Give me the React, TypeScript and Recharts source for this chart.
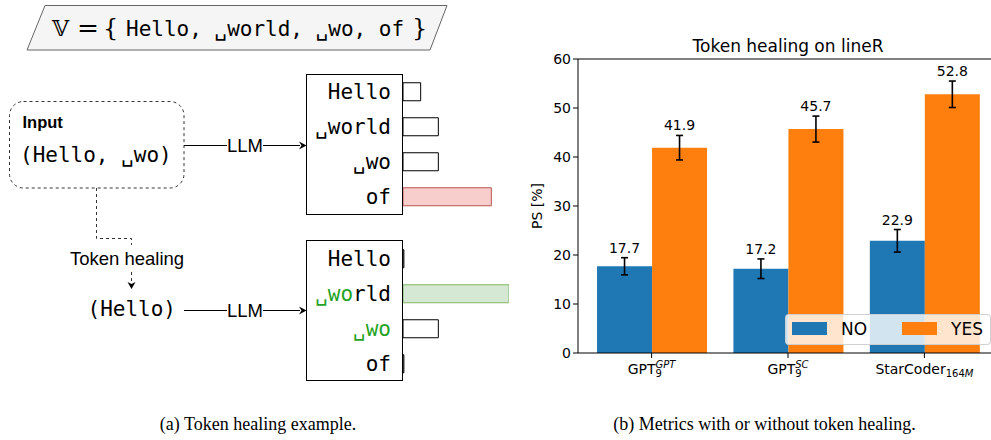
import { BarChart, Bar, XAxis, YAxis, ErrorBar, LabelList, ReferenceLine, Cell } from "recharts";

// right panel: token healing on lineR
const categories = ["GPT9GPT", "GPT9SC", "StarCoder164M"];
const tickBase = ["GPT", "GPT", "StarCoder"];
const tickSub = ["9", "9", "164"];
const tickSubItalic = ["", "", "M"];
const tickSup = ["GPT", "SC", ""];
const noValues = [17.7, 17.2, 22.9];
const yesValues = [41.9, 45.7, 52.8];
const noErrors = [1.75, 2.0, 2.3];
const yesErrors = [2.5, 2.65, 2.7];
const yTicks = [0, 10, 20, 30, 40, 50, 60];
const seriesNames = ["NO", "YES"];

// left panel: token probabilities before / after healing
const tokens = ["Hello", "␣world", "␣wo", "of"];
const probBefore = [0.1, 0.2, 0.2, 0.5];
const probAfter = [0.005, 0.6, 0.2, 0.005];
const vocabText = "Hello, ␣world, ␣wo, of";

const BLUE = "#1f77b4";
const ORANGE = "#ff7f0e";
const GREEN_TXT = "#22a322";
const MONO = "DejaVu Sans Mono";
const SANS = "Liberation Sans";

const chartData = categories.map((c, i) => ({
  key: c,
  no: noValues[i],
  yes: yesValues[i],
  noErr: noErrors[i],
  yesErr: yesErrors[i],
}));

const beforeData = tokens.map((t, i) => ({ token: t, p: probBefore[i] }));
const afterData = tokens.map((t, i) => ({ token: t, p: probAfter[i] }));

const valueLabel = (vals: number[], errs: number[]) => (props: any) => {
  const vb = props.viewBox || {};
  const x = props.x ?? vb.x;
  const y = props.y ?? vb.y;
  const w = props.width ?? vb.width;
  const h = props.height ?? vb.height;
  const v = Number(props.value);
  let i = props.index;
  if (i == null || vals[i] !== v) i = vals.indexOf(v);
  const errPx = v ? (errs[i] * h) / v : 0;
  return (
    <text x={x + w / 2} y={y - errPx - 5} textAnchor="middle" fontSize={14} fill="#000">
      {v.toFixed(1)}
    </text>
  );
};

const ModelTick = (props: any) => {
  const { x, y, payload } = props;
  const i = categories.indexOf(payload.value);
  return (
    <text x={x} y={y + 14} textAnchor="middle" fontSize={14} fill="#000">
      <tspan>{tickBase[i]}</tspan>
      <tspan dy={3} fontSize={10}>{tickSub[i]}</tspan>
      {tickSubItalic[i] && (
        <tspan fontSize={10} fontStyle="italic">{tickSubItalic[i]}</tspan>
      )}
      {tickSup[i] && (
        <tspan dx={-6.4} dy={-9.5} fontSize={10} fontStyle="italic">
          {tickSup[i]}
        </tspan>
      )}
    </text>
  );
};

const tokenTick = (greenPrefix: number[]) => (props: any) => {
  const { y, payload } = props;
  const i = tokens.indexOf(payload.value);
  const t = tokens[i];
  const n = greenPrefix[i] || 0;
  return (
    <text x={84} y={y + 7} textAnchor="end" fontFamily={MONO} fontSize={21} fill="#000">
      {n > 0 && <tspan fill={GREEN_TXT}>{t.slice(0, n)}</tspan>}
      <tspan>{t.slice(n)}</tspan>
    </text>
  );
};

function TokenBars({ data, hi, hiFill, hiStroke, greenPrefix }: any) {
  return (
    <BarChart
      width={202}
      height={140}
      data={data}
      layout="vertical"
      margin={{ top: 0, right: 0, bottom: 0, left: 0 }}
      barCategoryGap="25%"
    >
      <XAxis type="number" domain={[0, 0.6]} hide />
      <YAxis
        type="category"
        dataKey="token"
        width={96}
        axisLine={false}
        tickLine={false}
        tick={tokenTick(greenPrefix)}
        interval={0}
      />
      <Bar dataKey="p" isAnimationActive={false}>
        {data.map((_: any, i: number) => (
          <Cell
            key={i}
            fill={i === hi ? hiFill : "#fff"}
            stroke={i === hi ? hiStroke : "#000"}
            strokeWidth={1}
          />
        ))}
      </Bar>
    </BarChart>
  );
}

export default function App() {
  return (
    <div
      style={{
        position: "absolute",
        left: 0,
        top: 0,
        width: 991,
        height: 440,
        overflow: "hidden",
        background: "#fff",
        fontFamily: "DejaVu Sans",
      }}
    >
      {/* bar chart */}
      <div style={{ position: "absolute", left: 520, top: 30 }}>
        <BarChart
          width={490}
          height={360}
          data={chartData}
          margin={{ top: 29, right: 12, bottom: 7, left: 0 }}
          barCategoryGap="10%"
          barGap={0}
        >
          <XAxis
            dataKey="key"
            height={30}
            stroke="#000"
            tickSize={5}
            padding={{ left: 5.4, right: 5.4 }}
            tick={<ModelTick />}
            interval={0}
          />
          <YAxis
            domain={[0, 60]}
            ticks={yTicks}
            width={58}
            stroke="#000"
            tickSize={5}
            tick={{ fontSize: 14, fill: "#000" }}
            label={{
              value: "PS [%]",
              angle: -90,
              position: "center",
              dx: -12,
              style: { fontSize: 14, fill: "#000", textAnchor: "middle" },
            }}
          />
          <ReferenceLine y={60} stroke="#000" />
          <Bar dataKey="no" name={seriesNames[0]} fill={BLUE} isAnimationActive={false}>
            <ErrorBar dataKey="noErr" direction="y" width={3.5} strokeWidth={1.6} stroke="#000" />
            <LabelList dataKey="no" content={valueLabel(noValues, noErrors)} />
          </Bar>
          <Bar dataKey="yes" name={seriesNames[1]} fill={ORANGE} isAnimationActive={false}>
            <ErrorBar dataKey="yesErr" direction="y" width={3.5} strokeWidth={1.6} stroke="#000" />
            <LabelList dataKey="yes" content={valueLabel(yesValues, yesErrors)} />
          </Bar>
        </BarChart>
      </div>

      {/* legend */}
      <div
        style={{
          position: "absolute",
          left: 785,
          top: 314,
          width: 206,
          height: 31,
          boxSizing: "border-box",
          background: "rgba(255,255,255,0.8)",
          border: "1px solid rgba(204,204,204,0.9)",
          borderRadius: 4,
          fontSize: 17,
          color: "#000",
        }}
      >
        {seriesNames.map((name, i) => (
          <div key={name}>
            <div
              style={{
                position: "absolute",
                left: 6 + i * 110,
                top: 7,
                width: 35,
                height: 13,
                background: i === 0 ? BLUE : ORANGE,
              }}
            />
            <div
              style={{
                position: "absolute",
                left: 55 + i * 110,
                top: 0,
                height: 29,
                lineHeight: "29px",
              }}
            >
              {name}
            </div>
          </div>
        ))}
      </div>

      {/* token probability bars */}
      <div style={{ position: "absolute", left: 307, top: 74 }}>
        <TokenBars data={beforeData} hi={3} hiFill="#f8cecc" hiStroke="#b85450" greenPrefix={[0, 0, 0, 0]} />
      </div>
      <div style={{ position: "absolute", left: 307, top: 241 }}>
        <TokenBars data={afterData} hi={1} hiFill="#d5e8d4" hiStroke="#82b366" greenPrefix={[0, 3, 3, 0]} />
      </div>

      {/* diagram and captions */}
      <svg
        width={991}
        height={440}
        style={{ position: "absolute", left: 0, top: 0, pointerEvents: "none" }}
      >
        <polygon points="45,5.5 447,5.5 430,50 27,50" fill="#f5f5f5" stroke="#666" />
        <text x={52} y={36} fontFamily="DejaVu Serif" fontSize={22} fill="#000">𝕍</text>
        <text x={77} y={36} fontFamily="DejaVu Sans" fontSize={24} fill="#000" textLength={22} lengthAdjust="spacingAndGlyphs">=</text>
        <text x={103} y={36} fontFamily="DejaVu Serif" fontSize={24} fill="#000">{"{"}</text>
        <text x={126} y={36} fontFamily={MONO} fontSize={21} fill="#000">{vocabText}</text>
        <text x={412} y={36} fontFamily="DejaVu Serif" fontSize={24} fill="#000">{"}"}</text>

        <rect x={9.5} y={101.5} width={174.5} height={86.5} rx={14} fill="none" stroke="#333" strokeDasharray="3 3" />
        <text x={22.5} y={128} fontFamily={SANS} fontWeight="bold" fontSize={16.5} fill="#000">Input</text>
        <text x={20} y={162} fontFamily={MONO} fontSize={21} fill="#000">(Hello, ␣wo)</text>

        <rect x={306.5} y={74.5} width={96} height={140} fill="none" stroke="#000" />
        <rect x={306.5} y={240.5} width={96} height={140} fill="none" stroke="#000" />

        <path d="M184 145.5 H227 M263 145.5 H300" stroke="#000" fill="none" />
        <polygon points="306.5,145.5 299,141.5 301.5,145.5 299,149.5" fill="#000" />
        <text x={245} y={152} textAnchor="middle" fontFamily={SANS} fontSize={18.5} fill="#000">LLM</text>

        <path d="M184 310.5 H227 M263 310.5 H300" stroke="#000" fill="none" />
        <polygon points="306.5,310.5 299,306.5 301.5,310.5 299,314.5" fill="#000" />
        <text x={245} y={317} textAnchor="middle" fontFamily={SANS} fontSize={18.5} fill="#000">LLM</text>

        <path d="M96.5 188 V238.5 H131.5 V245 M131.5 272 V283" stroke="#333" strokeDasharray="3 3" fill="none" />
        <polygon points="131.5,289 127.5,282 131.5,284 135.5,282" fill="#000" />
        <text x={127} y={265} textAnchor="middle" fontFamily={SANS} fontSize={18.5} fill="#000">Token healing</text>
        <text x={176} y={316} textAnchor="end" fontFamily={MONO} fontSize={21} fill="#000">(Hello)</text>

        <text x={788} y={52} textAnchor="middle" fontFamily="DejaVu Sans" fontSize={17} fill="#000">Token healing on lineR</text>

        <text x={258} y={430} textAnchor="middle" fontFamily="Liberation Serif" fontSize={18} fill="#000">(a) Token healing example.</text>
        <text x={764.5} y={430} textAnchor="middle" fontFamily="Liberation Serif" fontSize={18} fill="#000">(b) Metrics with or without token healing.</text>
      </svg>
    </div>
  );
}
